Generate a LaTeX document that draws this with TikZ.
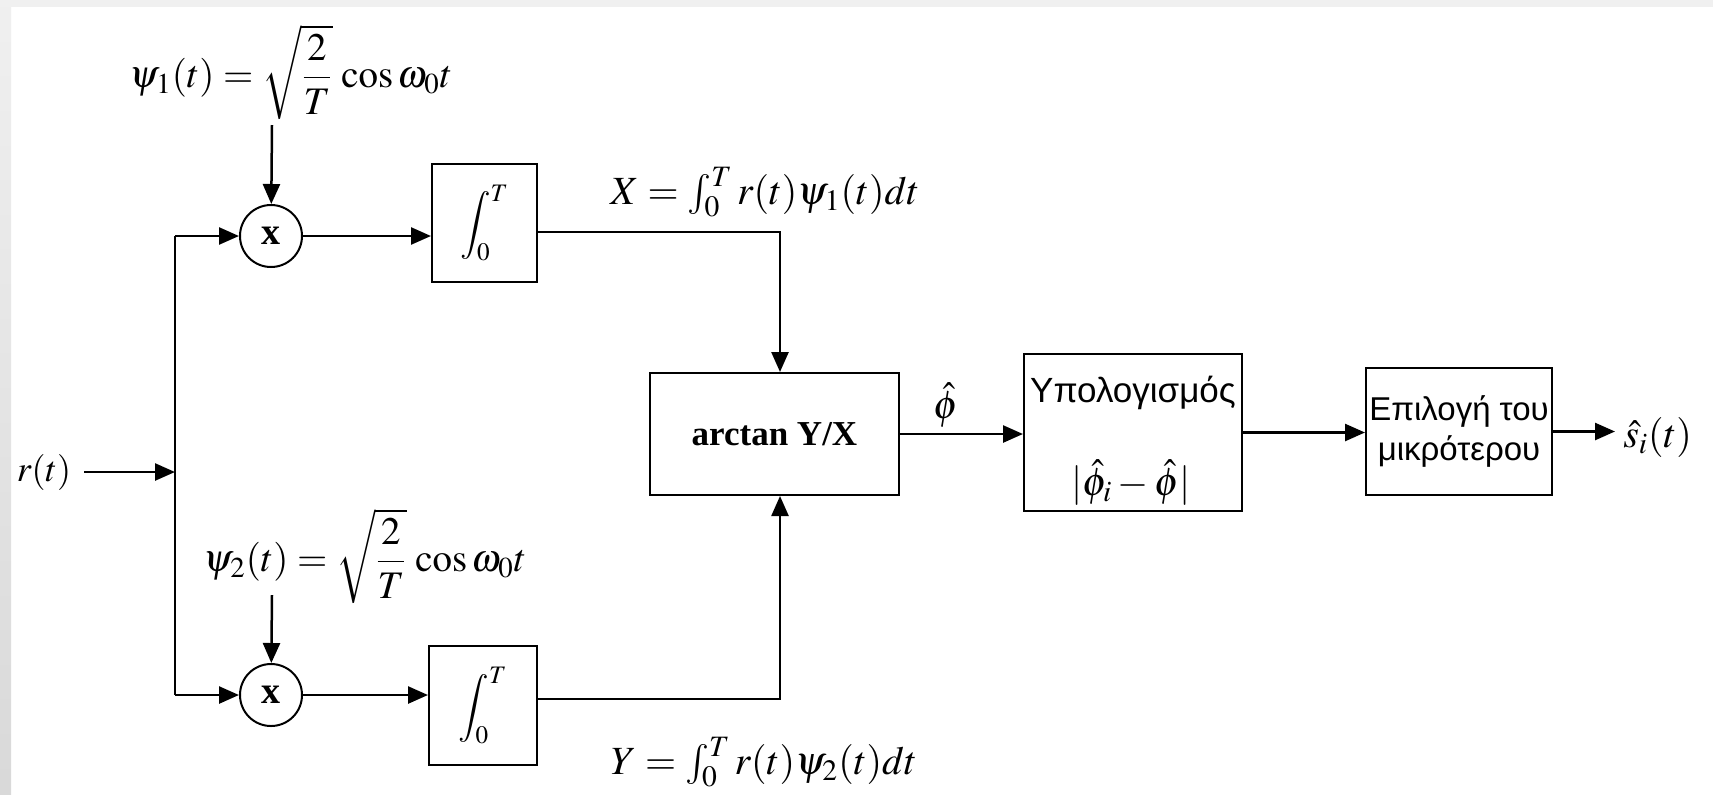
\documentclass[tikz,border=0pt]{standalone}
\usepackage{amsmath}
\usepackage{mathptmx}
\usepackage{fontspec}
\setmainfont{Liberation Serif}
\newfontfamily\greeksans{Liberation Sans}
\usetikzlibrary{arrows.meta, positioning}

\begin{document}
\begin{tikzpicture}[x=0.5pt, y=-0.5pt, line width=1.25pt,
        >={Triangle[length=10pt,width=8.5pt]},
        blk/.style={draw, line width=1pt, inner sep=0pt},
        mult/.style={draw, circle, line width=1pt, minimum size=31pt, inner sep=0pt, font=\fontsize{19}{22}\selectfont\bfseries},
        lbl/.style={font=\fontsize{20}{24}\selectfont, inner sep=0pt},
        txt/.style={font=\fontsize{17.5}{21}\selectfont\greeksans, align=center, inner sep=0pt}]
        \useasboundingbox (0,0) rectangle (1713,794);
        \fill[white] (0,0) rectangle (1713,794);
        \fill[gray!12] (0,0) rectangle (1713,7);
        \shade[top color=gray!12, bottom color=gray!30] (0,0) rectangle (11,794);

        \node[lbl, font=\fontsize{18}{22}\selectfont] (rin) at (44,472) {$r(t)$};
        \node[lbl, font=\fontsize{19.5}{23}\selectfont] (psi1) at (291,72) {$\psi_1(t)=\sqrt{\dfrac{2}{T}}\,\cos\omega_0 t$};
        \node[lbl, font=\fontsize{19.5}{23}\selectfont] (psi2) at (365,556) {$\psi_2(t)=\sqrt{\dfrac{2}{T}}\,\cos\omega_0 t$};
        \node[mult] (m1) at (271,236) {x};
        \node[mult] (m2) at (271,695) {x};
        \node[blk, minimum width=52.5pt, minimum height=59pt, font=\fontsize{17}{20}\selectfont] (int1) at (484.5,223) {$\displaystyle\int_0^T$};
        \node[blk, minimum width=54pt, minimum height=59.5pt, font=\fontsize{17}{20}\selectfont] (int2) at (483,705.5) {$\displaystyle\int_0^T$};
        \node[lbl] (xl) at (765,192) {$X=\int_0^T r(t)\psi_1(t)dt$};
        \node[lbl] (yl) at (764,762) {$Y=\int_0^T r(t)\psi_2(t)dt$};
        \node[blk, minimum width=124.5pt, minimum height=61pt, font=\fontsize{17.5}{21}\selectfont\bfseries] (atan) at (774.5,434) {arctan Y/X};
        \node[lbl] (ph) at (946,405) {$\hat{\phi}$};
        \node[blk, minimum width=109pt, minimum height=78.5pt] (calc) at (1133,432.5) {};
        \node[txt] (calct) at (1133,393) {Υπολογισμός};
        \node[lbl, font=\fontsize{20}{24}\selectfont] (calcm) at (1131,483) {$|\hat{\phi}_i-\hat{\phi}|$};
        \node[blk, txt, font=\fontsize{16.5}{20}\selectfont\greeksans, minimum width=93pt, minimum height=63.5pt] (sel) at (1459,431.5) {Επιλογή του\\μικρότερου};
        \node[lbl, anchor=west] (out) at (1622,437) {$\hat{s}_i(t)$};

        \coordinate (sp) at (175,472);
        \coordinate (sp1) at (175,236);
        \coordinate (sp2) at (175,695);
        \coordinate (p1) at (272,125);
        \coordinate (p2) at (272,595);
        \coordinate (xc) at (780,232);
        \coordinate (yc) at (780,699);

        \draw[->, shorten <=6pt] (rin.east) -- (sp);
        \draw (sp1) -- (sp2);
        \draw[->] (sp1) -- (m1);
        \draw[->] (sp2) -- (m2);
        \draw[->] (p1) -- (m1);
        \draw[->] (p2) -- (m2);
        \draw[->] (m1) -- (m1 -| int1.west);
        \draw[->] (m2) -- (m2 -| int2.west);
        \draw[->] (int1.east |- xc) -- (xc) -- (atan.north -| xc);
        \draw[->] (int2.east |- yc) -- (yc) -- (atan.south -| yc);
        \draw[->] (atan.east) -- (atan.east -| calc.west);
        \draw[->] (calc.east) -- (calc.east -| sel.west);
        \draw[->, shorten >=3.5pt] (sel.east) -- (sel.east -| out.west);
    \end{tikzpicture}
\end{document}
